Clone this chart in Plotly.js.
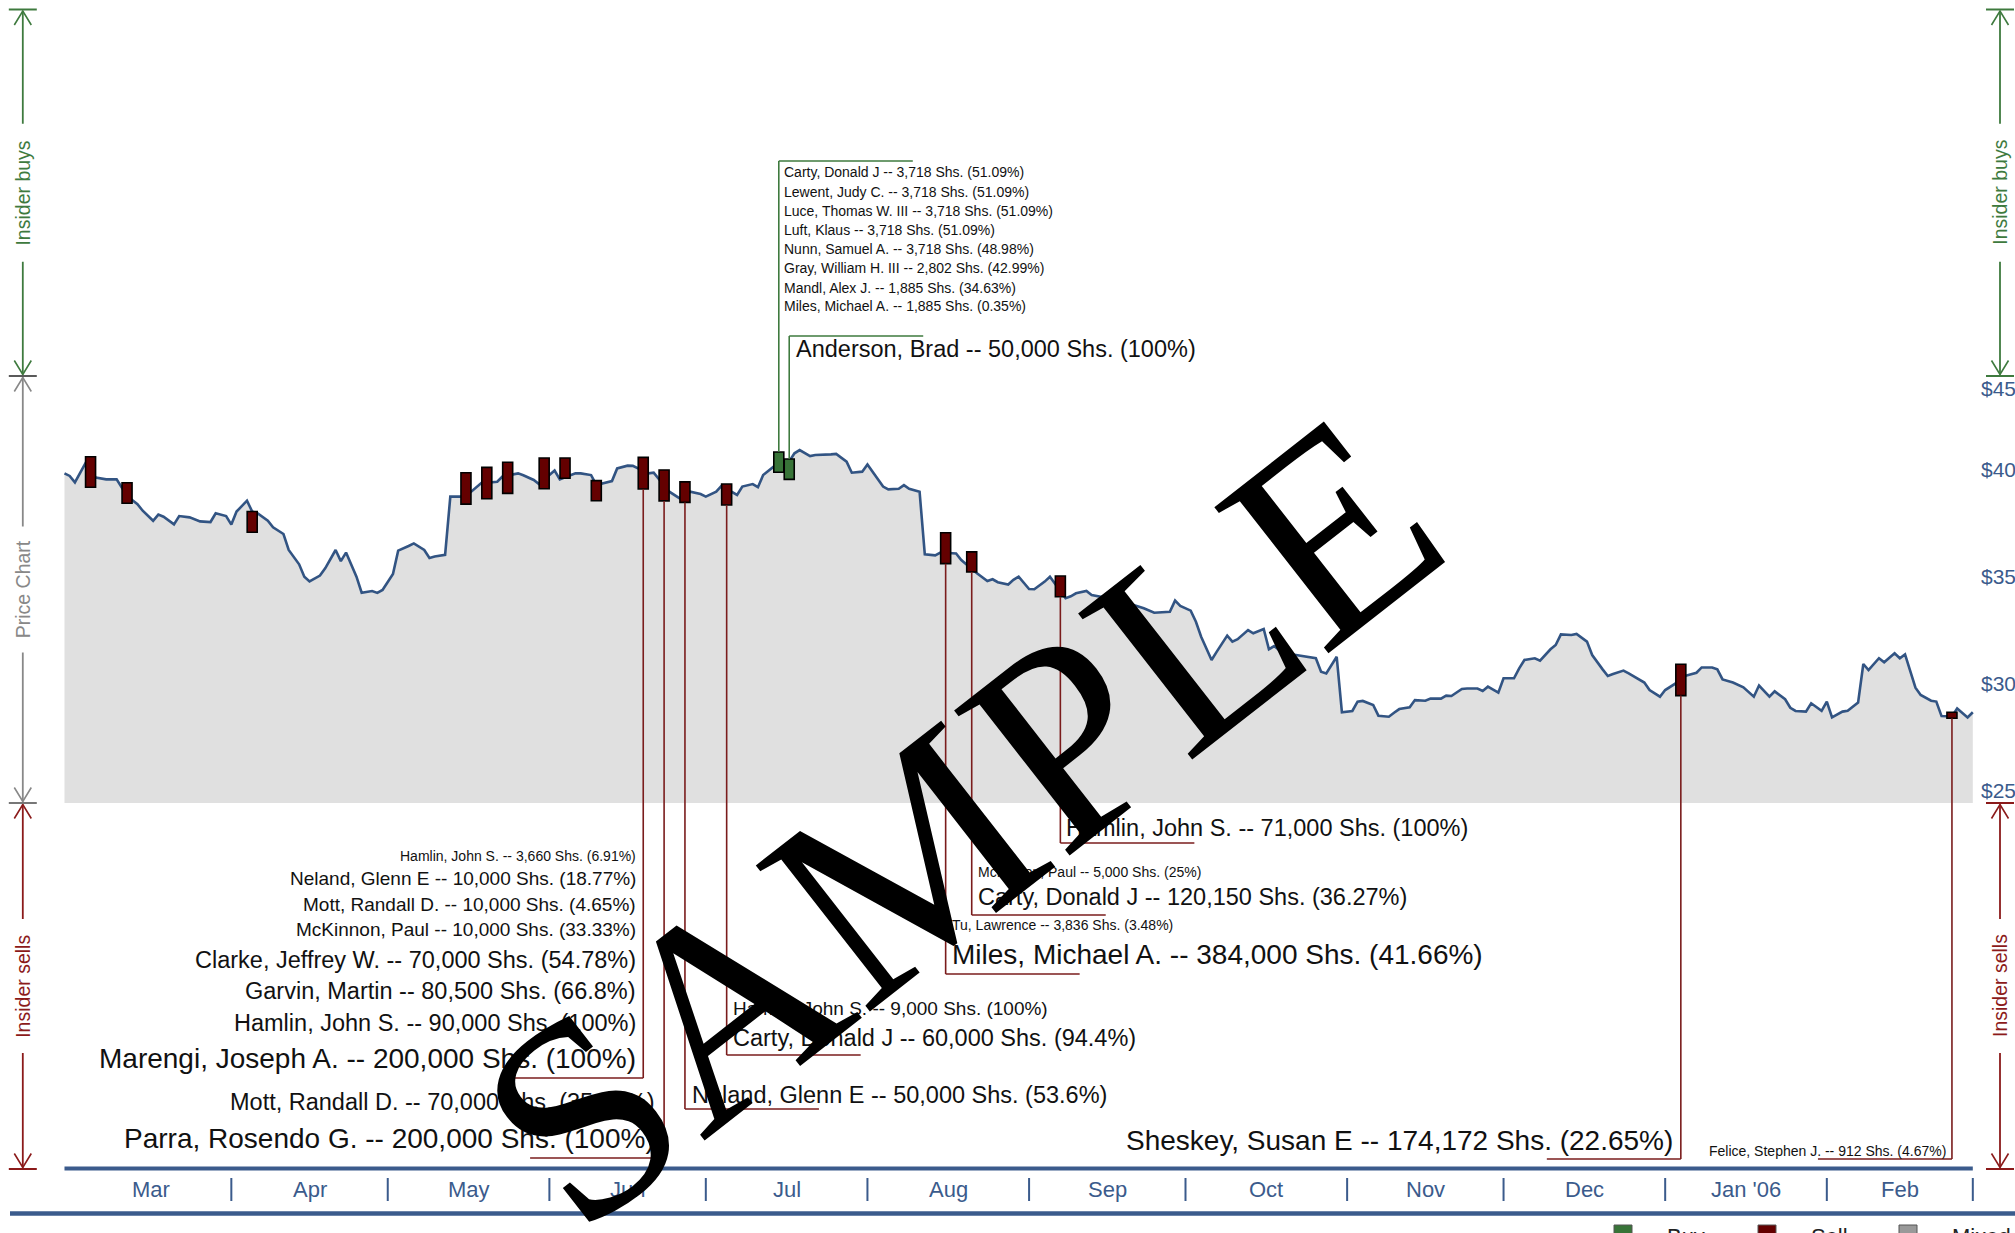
<!DOCTYPE html>
<html><head><meta charset="utf-8">
<script src="https://cdn.plot.ly/plotly-3.0.1.min.js"></script>
<style>html,body{margin:0;padding:0;background:#fff;}#chart{width:2015px;height:1233px;}</style>
</head><body><div id="chart"></div>
<script>
// ---------------- DATA ----------------
const priceDates = [
'2005-02-28','2005-03-01','2005-03-02','2005-03-04','2005-03-06','2005-03-08','2005-03-10','2005-03-11','2005-03-12','2005-03-14',
'2005-03-15','2005-03-17','2005-03-18','2005-03-19','2005-03-21','2005-03-22','2005-03-24','2005-03-26','2005-03-28','2005-03-29',
'2005-03-31','2005-04-01','2005-04-02','2005-04-04','2005-04-05','2005-04-06','2005-04-08','2005-04-09','2005-04-11','2005-04-12',
'2005-04-14','2005-04-15','2005-04-16','2005-04-18','2005-04-19','2005-04-21','2005-04-22','2005-04-23','2005-04-25','2005-04-26',
'2005-04-28','2005-04-29','2005-04-30','2005-05-02','2005-05-03','2005-05-05','2005-05-06','2005-05-08','2005-05-09','2005-05-10',
'2005-05-12','2005-05-13','2005-05-15','2005-05-17','2005-05-19','2005-05-20','2005-05-22','2005-05-23','2005-05-26','2005-05-27',
'2005-05-29','2005-05-30','2005-06-02','2005-06-03','2005-06-06','2005-06-07','2005-06-09','2005-06-10','2005-06-12','2005-06-13',
'2005-06-14','2005-06-16','2005-06-17','2005-06-20','2005-06-21','2005-06-24','2005-06-26','2005-06-28','2005-06-30','2005-07-01',
'2005-07-03','2005-07-04','2005-07-07','2005-07-08','2005-07-10','2005-07-11','2005-07-12','2005-07-14','2005-07-17','2005-07-18',
'2005-07-19','2005-07-21','2005-07-22','2005-07-24','2005-07-25','2005-07-26','2005-07-28','2005-07-29','2005-07-31','2005-08-01',
'2005-08-02','2005-08-04','2005-08-05','2005-08-07','2005-08-08','2005-08-09','2005-08-11','2005-08-12','2005-08-14','2005-08-15',
'2005-08-18','2005-08-19','2005-08-22','2005-08-24','2005-08-25','2005-08-26','2005-08-28','2005-08-29','2005-08-30','2005-09-01',
'2005-09-02','2005-09-04','2005-09-05','2005-09-08','2005-09-09','2005-09-10','2005-09-12','2005-09-13','2005-09-18','2005-09-21',
'2005-09-23','2005-09-25','2005-09-28','2005-09-29','2005-09-30','2005-10-02','2005-10-03','2005-10-04','2005-10-06','2005-10-07',
'2005-10-09','2005-10-10','2005-10-11','2005-10-13','2005-10-14','2005-10-16','2005-10-17','2005-10-18','2005-10-20','2005-10-21',
'2005-10-26','2005-10-27','2005-10-28','2005-10-30','2005-10-31','2005-11-02','2005-11-03','2005-11-04','2005-11-06','2005-11-07',
'2005-11-09','2005-11-10','2005-11-11','2005-11-13','2005-11-14','2005-11-16','2005-11-17','2005-11-19','2005-11-20','2005-11-21',
'2005-11-23','2005-11-24','2005-11-26','2005-11-27','2005-11-28','2005-11-30','2005-12-01','2005-12-03','2005-12-04','2005-12-05',
'2005-12-07','2005-12-08','2005-12-10','2005-12-11','2005-12-12','2005-12-14','2005-12-15','2005-12-17','2005-12-18','2005-12-20',
'2005-12-21','2005-12-22','2005-12-24','2005-12-25','2005-12-26','2005-12-28','2005-12-29','2005-12-31','2006-01-01','2006-01-03',
'2006-01-04','2006-01-07','2006-01-08','2006-01-10','2006-01-11','2006-01-12','2006-01-14','2006-01-15','2006-01-16','2006-01-18',
'2006-01-19','2006-01-21','2006-01-22','2006-01-24','2006-01-25','2006-01-26','2006-01-28','2006-01-29','2006-01-31','2006-02-01',
'2006-02-02','2006-02-04','2006-02-05','2006-02-07','2006-02-08','2006-02-09','2006-02-11','2006-02-12','2006-02-14','2006-02-15',
'2006-02-16','2006-02-18','2006-02-19','2006-02-21','2006-02-22','2006-02-23','2006-02-25','2006-02-26','2006-02-28','2006-03-01'];
const priceValues = [
40.44,40.32,40.02,40.91,40.24,40.16,40.16,39.74,39.38,39.00,
38.69,38.22,38.51,38.41,38.05,38.44,38.38,38.19,38.16,38.57,
38.44,38.04,38.65,39.16,38.65,38.57,38.22,37.91,37.60,36.85,
36.18,35.60,35.38,35.65,35.99,36.85,36.33,36.73,35.60,34.85,
34.93,34.84,34.98,35.73,36.82,37.04,37.16,36.85,36.48,36.55,
36.62,39.35,39.35,39.58,40.00,40.00,40.05,40.29,40.44,40.35,
40.13,39.94,40.57,40.16,40.44,40.44,40.36,39.90,40.00,40.08,
40.67,40.80,40.79,40.44,40.47,39.58,39.27,39.58,39.47,39.35,
39.58,39.85,39.43,39.82,39.94,39.79,40.36,40.75,41.00,41.38,
41.53,41.25,41.30,41.30,41.33,41.35,40.99,40.47,40.52,40.86,
40.52,39.82,39.69,39.72,39.89,39.72,39.58,36.65,36.60,36.73,
36.69,36.38,35.76,35.40,35.48,35.34,35.23,35.45,35.60,35.02,
35.01,35.37,35.60,34.59,34.68,34.82,34.93,34.74,34.51,34.27,
34.12,33.91,33.96,34.48,34.23,34.01,33.49,32.79,31.70,32.09,
32.84,32.56,32.67,33.10,32.95,33.15,32.20,32.35,31.96,31.98,
31.78,31.15,31.07,31.85,29.25,29.31,29.75,29.78,29.59,29.09,
29.04,29.23,29.40,29.48,29.82,29.79,29.89,29.89,30.03,30.01,
30.34,30.36,30.36,30.25,30.45,30.17,30.84,30.84,31.31,31.70,
31.78,31.67,32.20,32.40,32.90,32.87,32.92,32.56,31.93,31.26,
30.95,31.04,31.20,31.07,30.92,30.64,30.29,29.98,30.29,30.60,
30.90,31.10,31.35,31.35,31.26,30.79,30.64,30.53,30.42,29.98,
30.50,29.98,30.23,29.86,29.46,29.31,29.28,29.67,29.32,29.75,
29.01,29.28,29.32,29.70,31.51,31.23,31.78,31.59,32.01,31.78,
31.96,30.40,30.06,29.79,29.75,29.07,29.05,29.43,29.01,29.25];

// insider sell markers
const sellDates = ['2005-03-05','2005-03-12','2005-04-05','2005-05-16','2005-05-20','2005-05-24','2005-05-31','2005-06-04','2005-06-10',
                   '2005-06-19','2005-06-23','2005-06-27','2005-07-05','2005-08-16','2005-08-21','2005-09-07','2006-01-04','2006-02-25'];
const sellHigh = [41.22,40.00,38.65,40.47,40.72,40.96,41.16,41.16,40.10,41.19,40.60,40.04,39.94,37.66,36.76,35.63,31.50,29.25];
const sellLow  = [39.79,39.04,37.68,39.00,39.25,39.50,39.72,40.21,39.16,39.71,39.15,39.08,38.96,36.21,35.82,34.66,30.03,28.97];
// insider buy markers
const buyDates = ['2005-07-15','2005-07-17'];
const buyHigh = [41.44,41.11];
const buyLow  = [40.49,40.16];

const monthStarts = ['2005-03-01','2005-04-01','2005-05-01','2005-06-01','2005-07-01','2005-08-01','2005-09-01',
                     '2005-10-01','2005-11-01','2005-12-01','2006-01-01','2006-02-01','2006-03-01'];
const monthLabels = ['Mar','Apr','May','Jun','Jul','Aug','Sep','Oct','Nov','Dec',"Jan '06",'Feb'];
const priceTicks = [45,40,35,30,25];

// labelled transactions (group = which marker the label belongs to)
const groupKind   = ['buy','buy','sell','sell','sell','sell','sell','sell','sell','sell','sell'];
const groupMarker = [0,1,9,10,11,12,13,14,15,16,17];
const insiderNames = [
 'Carty, Donald J','Lewent, Judy C.','Luce, Thomas W. III','Luft, Klaus','Nunn, Samuel A.','Gray, William H. III','Mandl, Alex J.','Miles, Michael A.',
 'Anderson, Brad',
 'Hamlin, John S.','Neland, Glenn E','Mott, Randall D.','McKinnon, Paul','Clarke, Jeffrey W.','Garvin, Martin','Hamlin, John S.','Marengi, Joseph A.',
 'Mott, Randall D.','Parra, Rosendo G.',
 'Neland, Glenn E',
 'Hamlin, John S.','Carty, Donald J',
 'Tu, Lawrence','Miles, Michael A.',
 'McKinnon, Paul','Carty, Donald J',
 'Hamlin, John S.',
 'Sheskey, Susan E',
 'Felice, Stephen J.'];
const insiderShares = [3718,3718,3718,3718,3718,2802,1885,1885, 50000,
 3660,10000,10000,10000,70000,80500,90000,200000, 70000,200000, 50000, 9000,60000, 3836,384000, 5000,120150, 71000, 174172, 912];
const insiderPct = ['51.09','51.09','51.09','51.09','48.98','42.99','34.63','0.35','100',
 '6.91','18.77','4.65','33.33','54.78','66.8','100','100','35.46','100','53.6','100','94.4','3.48','41.66','25','36.27','100','22.65','4.67'];
const insiderGroup = [0,0,0,0,0,0,0,0, 1, 2,2,2,2,2,2,2,2, 3,3, 4, 5,5, 6,6, 7,7, 8, 9, 10];

// ---------------- LAYOUT (pixels) ----------------
const W = 2015, H = 1233;
const groupLineY = [161, 336, 1078, 1158, 1109, 1055, 974, 915, 843, 1159, 1159];
const groupDir   = [1, 1, -1, -1, 1, 1, 1, 1, 1, -1, -1];
const groupShift = [4, 6, 6, 8, 6, 5, 5, 5, 5, 7, 5];
const labelY = [172,191.5,211,230,249,268,287.5,306.5, 349,
  856,878.5,904,929.5,959.5,990.5,1022.5,1058, 1101.5,1138.5, 1095, 1008,1037.5, 925,954, 871.5,897, 828, 1140, 1150.5];

const DAY = 86400000;
function msOf(s){ const p=s.split('-').map(Number); return Date.UTC(p[0],p[1]-1,p[2]); }
function fmt(ms){ return new Date(ms).toISOString().replace('T',' ').replace('Z',''); }
const PXD = 5.214, REF_PX = 69.7, REF_MS = msOf('2005-03-01');
const xStart = fmt(REF_MS - REF_PX/PXD*DAY), xEnd = fmt(REF_MS + (W-REF_PX)/PXD*DAY);
const PTOP = 376, PBOT = 803, PMIN = 25, PMAX = 45;
const d0 = 1 - PBOT/H, d1 = 1 - PTOP/H;
const px = x => x/W, py = y => 1 - y/H;
const yPaper = p => d0 + (p-PMIN)/(PMAX-PMIN)*(d1-d0);

const BLUE = '#3b5b8c', SELL = '#640000', BUY = '#387438', SELL_LINE = '#7a1c1c', BUY_LINE = '#3e7a3e';
const FONT = 'Liberation Sans, Arial, sans-serif';
const barW = 10/PXD*DAY;

const traces = [
 {type:'scatter', mode:'lines', x:priceDates, y:priceValues, xaxis:'x', yaxis:'y',
  line:{color:'#325483', width:2.6}, fill:'tozeroy', fillcolor:'#e0e0e0', hoverinfo:'skip'},
 {type:'bar', x:sellDates, base:sellLow, y:sellHigh.map((h,i)=>h-sellLow[i]), width:barW, xaxis:'x', yaxis:'y2',
  marker:{color:SELL, line:{color:'#000', width:1.6}}, hoverinfo:'skip'},
 {type:'bar', x:buyDates, base:buyLow, y:buyHigh.map((h,i)=>h-buyLow[i]), width:barW, xaxis:'x', yaxis:'y2',
  marker:{color:BUY, line:{color:'#000', width:1.6}}, hoverinfo:'skip'}
];

const shapes = [], annotations = [];
function line(x0,y0,x1,y1,color,width,xref,yref){ shapes.push({type:'line',xref:xref||'paper',yref:yref||'paper',x0,y0,x1,y1,line:{color,width}}); }

// connectors + labels
function sizeFor(s){ return s <= 5000 ? 14 : s < 50000 ? 19 : s < 150000 ? 23.5 : 28; }
groupKind.forEach((k,g)=>{
  const i = groupMarker[g];
  const d = k==='buy' ? buyDates[i] : sellDates[i];
  const yEnd = k==='buy' ? yPaper(buyHigh[i]) : yPaper(sellLow[i]);
  const col = k==='buy' ? BUY_LINE : SELL_LINE;
  const ly = py(groupLineY[g]);
  shapes.push({type:'line', xref:'x', yref:'paper', x0:d, x1:d, y0:yEnd, y1:ly, line:{color:col, width:1.6}});
  shapes.push({type:'line', xref:'x', yref:'paper', xsizemode:'pixel', xanchor:d, x0:0, x1:groupDir[g]*134, y0:ly, y1:ly, line:{color:col, width:1.6}});
});
insiderNames.forEach((n,j)=>{
  const g = insiderGroup[j], k = groupKind[g], i = groupMarker[g];
  const d = k==='buy' ? buyDates[i] : sellDates[i];
  annotations.push({xref:'x', yref:'paper', x:d, y:py(labelY[j]), xanchor: groupDir[g]>0?'left':'right', yanchor:'middle',
    xshift: groupDir[g]*groupShift[g], showarrow:false, borderpad:0,
    text: n + ' -- ' + insiderShares[j].toLocaleString('en-US') + ' Shs. (' + insiderPct[j] + '%)',
    font:{family:FONT, size:sizeFor(insiderShares[j]), color:'#111'}});
});

// side range markers
function chevUp(x,y,c){ shapes.push({type:'path',xref:'paper',yref:'paper',path:`M${px(x-8.5)},${py(y+14)} L${px(x)},${py(y)} L${px(x+8.5)},${py(y+14)}`,line:{color:c,width:1.6}}); }
function chevDown(x,y,c){ shapes.push({type:'path',xref:'paper',yref:'paper',path:`M${px(x-8.5)},${py(y-14)} L${px(x)},${py(y)} L${px(x+8.5)},${py(y-14)}`,line:{color:c,width:1.6}}); }
function section(x, yTop, yBot, text, color, half){
  const yc = (yTop+yBot)/2;
  chevUp(x, yTop+1.5, color); chevDown(x, yBot-1.5, color);
  line(px(x), py(yTop+1.5), px(x), py(yc-half), color, 1.8);
  line(px(x), py(yc+half), px(x), py(yBot-1.5), color, 1.8);
  annotations.push({xref:'paper',yref:'paper',x:px(x),y:py(yc),text,textangle:-90,showarrow:false,xanchor:'center',yanchor:'middle',
    font:{family:FONT,size:19.5,color}});
}
function bar(x, y, c){ line(px(x-14), py(y), px(x+14), py(y), c, 2); }
const GREEN_T = '#3e7a3e', GRAY_T = '#888888', RED_T = '#8b1a1a';
// left
section(22.8, 9.5, 376, 'Insider buys', GREEN_T, 69);
section(22.8, 376, 803, 'Price Chart', GRAY_T, 63);
section(22.8, 803, 1169, 'Insider sells', RED_T, 67);
bar(22.8, 9.5, GREEN_T); bar(22.8, 376, '#5a5a5a'); bar(22.8, 803, '#777'); bar(22.8, 1169, RED_T);
// right
section(2000, 9.5, 376, 'Insider buys', GREEN_T, 69);
section(2000, 803, 1169, 'Insider sells', RED_T, 67);
bar(2000, 9.5, GREEN_T); bar(2000, 376, GREEN_T); bar(2000, 803, RED_T); bar(2000, 1169, RED_T);

// price labels
priceTicks.forEach(v=>{
  annotations.push({xref:'paper', yref:'y', x:px(1979), y:v, yshift: v===PMAX ? -12 : 13, xanchor:'left', yanchor:'middle',
    showarrow:false, text:'$'+v, font:{family:FONT, size:21, color:BLUE}});
});

// time axis
line(priceDates[0], py(1168.5), monthStarts[monthStarts.length-1], py(1168.5), BLUE, 4, 'x', 'paper');
for (let i=1;i<monthStarts.length;i++) line(monthStarts[i], py(1178), monthStarts[i], py(1201), BLUE, 2, 'x', 'paper');
monthLabels.forEach((m,i)=>{
  const l = Math.max(msOf(monthStarts[i]), msOf(priceDates[0])), r = msOf(monthStarts[i+1]);
  annotations.push({xref:'x', yref:'paper', x:fmt((l+r)/2), y:py(1189), showarrow:false, xanchor:'center', yanchor:'middle',
    text:m, font:{family:FONT, size:22, color:BLUE}});
});
line(px(10), py(1213.5), 1, py(1213.5), BLUE, 4.5);

// legend (partially below the picture edge, as in the original)
[['#387438',1614,'= Buy',1646],['#640000',1758,'= Sell',1790],['#999999',1899,'= Mixed',1931]].forEach(L=>{
  shapes.push({type:'rect', xref:'paper', yref:'paper', x0:px(L[1]), x1:px(L[1]+18), y0:py(1225), y1:py(1243),
    fillcolor:L[0], line:{color:'#555', width:1}});
  annotations.push({xref:'paper', yref:'paper', x:px(L[3]), y:py(1236), xanchor:'left', yanchor:'middle', showarrow:false,
    text:L[2], font:{family:FONT, size:22, color:'#222'}});
});

// watermark
annotations.push({xref:'paper', yref:'paper', x:px(959), y:py(820), xanchor:'center', yanchor:'middle', showarrow:false,
  text:'SAMPLE', textangle:-38, font:{family:'Liberation Serif, Times New Roman, serif', size:283, color:'#000'}});

const layout = {
  width:W, height:H, margin:{l:0,r:0,t:0,b:0,pad:0}, paper_bgcolor:'#fff', plot_bgcolor:'rgba(0,0,0,0)',
  showlegend:false, barmode:'overlay',
  xaxis:{type:'date', range:[xStart,xEnd], domain:[0,1], visible:false, fixedrange:true},
  yaxis:{range:[PMIN,PMAX], domain:[d0,d1], visible:false, fixedrange:true},
  yaxis2:{range:[PMIN,PMAX], overlaying:'y', visible:false, fixedrange:true},
  shapes, annotations
};
Plotly.newPlot('chart', traces, layout, {displayModeBar:false, staticPlot:true});
</script></body></html>
